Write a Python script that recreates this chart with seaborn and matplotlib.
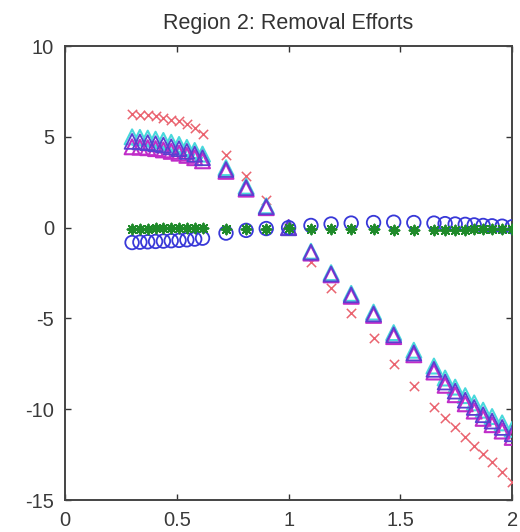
import matplotlib
matplotlib.use("Agg")
import matplotlib.pyplot as plt
import seaborn as sns
import pandas as pd

# Sample positions (dense at both ends, coarser in the middle)
x_left = [0.30, 0.335, 0.37, 0.405, 0.44, 0.475, 0.51, 0.545, 0.58, 0.615]
x_mid = [0.72, 0.81, 0.90, 1.00, 1.10, 1.19, 1.28, 1.38, 1.47, 1.56, 1.65]
x_right = [1.70, 1.745, 1.79, 1.83, 1.87, 1.91, 1.955, 2.00]
x_vals = x_left + x_mid + x_right

red_x = [6.25, 6.22, 6.18, 6.12, 6.05, 5.95, 5.85, 5.70, 5.50, 5.15,
         4.0, 2.85, 1.5, 0.0, -1.9, -3.3, -4.7, -6.1, -7.5, -8.7, -9.9,
         -10.5, -11.0, -11.5, -12.0, -12.45, -12.9, -13.45, -14.0]
cyan_tri = [5.0, 4.97, 4.93, 4.87, 4.80, 4.70, 4.58, 4.42, 4.25, 4.05,
            3.3, 2.28, 1.2, 0.0, -1.3, -2.48, -3.62, -4.65, -5.78, -6.75, -7.62,
            -8.28, -8.78, -9.25, -9.65, -10.05, -10.4, -10.75, -11.1]
blue_tri = [4.75, 4.72, 4.68, 4.62, 4.55, 4.45, 4.35, 4.20, 4.05, 3.85,
            3.2, 2.2, 1.15, 0.0, -1.35, -2.55, -3.7, -4.75, -5.9, -6.9, -7.8,
            -8.5, -9.0, -9.5, -9.9, -10.3, -10.65, -11.0, -11.35]
mag_tri = [4.45, 4.43, 4.40, 4.35, 4.28, 4.20, 4.10, 3.98, 3.85, 3.68,
           3.1, 2.12, 1.1, 0.0, -1.4, -2.6, -3.78, -4.83, -6.0, -7.0, -7.95,
           -8.68, -9.2, -9.7, -10.1, -10.5, -10.85, -11.2, -11.55]
blue_circ = [-0.82, -0.80, -0.78, -0.76, -0.74, -0.72, -0.70, -0.67, -0.63, -0.58,
             -0.3, -0.15, -0.05, 0.0, 0.12, 0.2, 0.25, 0.28, 0.3, 0.28, 0.25,
             0.22, 0.2, 0.18, 0.15, 0.12, 0.1, 0.08, 0.05]
green_star = [-0.05, -0.05, -0.05, -0.04, -0.04, -0.03, -0.03, -0.02, -0.02, -0.01,
              -0.05, -0.08, -0.05, 0.0, -0.05, -0.08, -0.1, -0.1, -0.12, -0.12, -0.12,
              -0.12, -0.12, -0.12, -0.1, -0.1, -0.1, -0.1, -0.1]

x_ticks = [0, 0.5, 1, 1.5, 2]
x_tick_labels = ["0", "0.5", "1", "1.5", "2"]
y_ticks = [-15, -10, -5, 0, 5, 10]
y_tick_labels = ["-15", "-10", "-5", "0", "5", "10"]
title = "Region 2: Removal Efforts"

df = pd.DataFrame({
    "x": x_vals, "red": red_x, "cyan": cyan_tri, "blue": blue_tri,
    "magenta": mag_tri, "circ": blue_circ, "green": green_star,
})

sns.set_theme(style="white")
plt.rcParams["font.family"] = ["Liberation Sans", "DejaVu Sans"]

fig = plt.figure(figsize=(5.2, 5.32), dpi=100)
ax = fig.add_axes([0.125, 0.060, 0.860, 0.8535])

sns.scatterplot(data=df, x="x", y="red", marker="x", s=45, color="#ea6470",
                linewidth=1.1, ax=ax, zorder=3)
sns.scatterplot(data=df, x="x", y="cyan", marker="^", s=115, color="#48d8dc",
                facecolor="none", edgecolor="#48d8dc", linewidth=1.5, ax=ax, zorder=3)
sns.scatterplot(data=df, x="x", y="magenta", marker="^", s=115, color="#c02cc8",
                facecolor="none", edgecolor="#c02cc8", linewidth=1.5, ax=ax, zorder=3)
sns.scatterplot(data=df, x="x", y="blue", marker="^", s=115, color="#5a40d0",
                facecolor="none", edgecolor="#5a40d0", linewidth=1.3, ax=ax, zorder=3)
sns.scatterplot(data=df, x="x", y="circ", marker="o", s=95, color="#3838d8",
                facecolor="none", edgecolor="#3838d8", linewidth=1.3, ax=ax, zorder=3)
sns.scatterplot(data=df, x="x", y="green", marker=(8, 2, 0), s=50, color="#1f8a2a",
                linewidth=1.4, ax=ax, zorder=4)

ax.set_xlim(0, 2)
ax.set_ylim(-15, 10)
ax.set_xticks(x_ticks)
ax.set_xticklabels(x_tick_labels)
ax.set_yticks(y_ticks)
ax.set_yticklabels(y_tick_labels)
ax.set_xlabel("")
ax.set_ylabel("")
ax.tick_params(axis="both", direction="in", length=4, width=1.0, color="#333333",
               labelsize=14.5, labelcolor="#3a3a3a", top=True, right=True,
               bottom=True, left=True)
ax.tick_params(axis="x", pad=8)
ax.tick_params(axis="y", pad=8)
for side in ax.spines.values():
    side.set_visible(True)
    side.set_color("#444444")
    side.set_linewidth(1.4)
ax.set_title(title, fontsize=15.5, color="#333333", pad=12)

fig.savefig("out.png", dpi=100, facecolor="white")
